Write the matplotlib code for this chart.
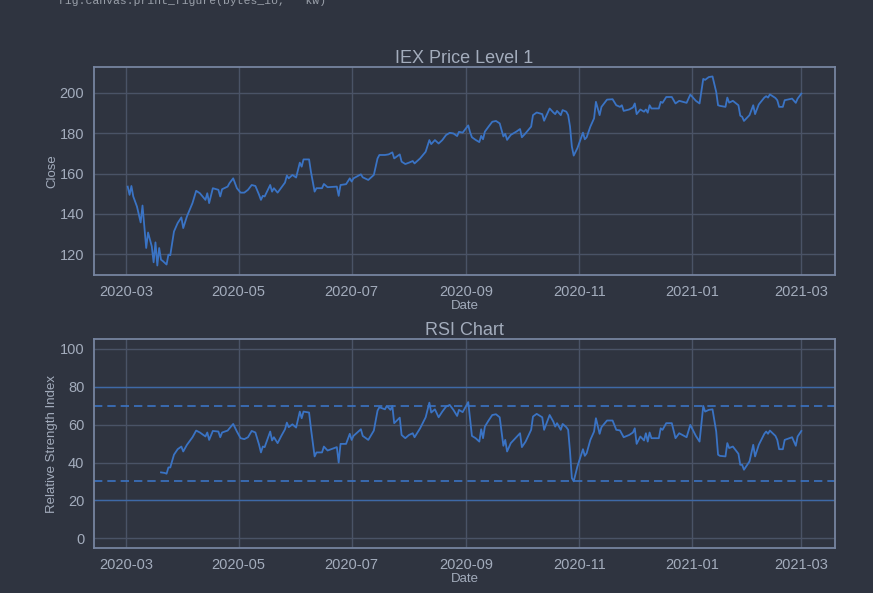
import matplotlib
matplotlib.use("Agg")
import matplotlib.pyplot as plt
import matplotlib.dates as mdates
import pandas as pd

# ---- data ----
start_date = "2020-03-01"
price_days = [1, 2, 3, 4, 6, 8, 9, 11, 12, 14, 15, 16, 17, 18, 19, 20, 22, 23, 24, 26, 28, 30, 31, 33,
              36, 38, 40, 43, 44, 45, 47, 50, 51, 52, 55, 56, 58, 60, 62, 64, 66, 68, 70, 72, 73, 74,
              75, 78, 79, 80, 82, 84, 86, 87, 88, 90, 92, 94, 95, 96, 99, 100, 102, 103, 106, 107,
              109, 114, 115, 116, 119, 121, 122, 123, 127, 128, 131, 134, 136, 137, 140, 142, 143,
              144, 145, 148, 149, 151, 153, 155, 156, 159, 162, 164, 165, 167, 169, 171, 173, 175,
              177, 179, 180, 182, 185, 186, 187, 189, 191, 192, 193, 194, 196, 198, 200, 202, 204,
              205, 206, 208, 211, 213, 214, 216, 219, 220, 222, 225, 226, 229, 231, 232, 233, 235,
              236, 238, 239, 240, 241, 242, 244, 247, 248, 249, 251, 253, 254, 256, 257, 260, 263,
              265, 267, 268, 269, 272, 274, 275, 276, 278, 280, 281, 282, 283, 284, 288, 289, 290,
              292, 295, 297, 299, 303, 305, 308, 310, 312, 313, 315, 317, 319, 320, 321, 324, 325,
              326, 328, 331, 332, 333, 334, 337, 339, 340, 342, 345, 346, 347, 348, 351, 352, 353,
              355, 356, 360, 362, 363, 365]
price_close = [153.5, 149.4, 153.8, 148.6, 143.6, 135.7, 144.1, 123.0, 130.7, 123.8, 115.9, 125.8,
               114.3, 123.0, 117.2, 116.5, 114.8, 119.7, 119.4, 131.2, 135.4, 138.2, 132.9, 138.7,
               145.3, 151.4, 150.2, 146.9, 150.2, 145.3, 152.7, 151.9, 148.6, 152.2, 153.5, 155.2,
               157.6, 152.7, 150.5, 150.5, 151.9, 154.3, 153.8, 149.4, 146.9, 148.9, 148.6, 154.3,
               151.0, 152.7, 150.5, 153.0, 155.5, 159.0, 157.6, 159.3, 158.0, 165.4, 163.4, 167.0,
               167.0, 160.9, 151.0, 152.7, 152.7, 154.8, 153.2, 153.5, 148.9, 154.3, 154.7, 157.6,
               156.0, 157.6, 159.6, 158.1, 156.8, 159.3, 167.5, 169.2, 169.2, 169.5, 170.0, 170.5,
               167.5, 169.5, 165.9, 164.7, 165.4, 166.2, 165.0, 167.5, 170.8, 176.6, 174.6, 176.6,
               174.9, 176.6, 179.1, 180.2, 179.9, 178.6, 180.7, 180.3, 183.9, 180.5, 178.0, 176.7,
               175.6, 178.7, 177.0, 180.8, 183.3, 185.7, 186.1, 184.9, 178.4, 179.7, 176.7, 179.2,
               180.8, 182.1, 178.0, 180.0, 183.3, 189.0, 190.3, 189.5, 186.2, 192.3, 190.3, 189.5,
               191.1, 189.0, 191.5, 190.7, 189.0, 183.3, 173.4, 168.9, 172.6, 180.3, 177.0, 178.0,
               183.3, 187.4, 195.6, 189.0, 193.1, 196.7, 196.9, 193.9, 193.1, 193.9, 191.1, 191.8,
               192.8, 194.8, 189.5, 191.8, 190.7, 191.8, 190.2, 193.9, 192.3, 192.3, 195.6, 195.1,
               198.0, 198.0, 194.8, 196.1, 195.1, 199.2, 196.1, 194.8, 207.0, 206.5, 207.9, 208.2,
               200.5, 193.9, 193.6, 193.1, 197.7, 195.2, 196.1, 193.9, 188.7, 188.2, 186.1, 189.0,
               193.9, 189.5, 194.3, 197.7, 198.4, 197.7, 199.3, 197.5, 196.4, 193.1, 193.1, 196.4,
               197.2, 195.1, 197.2, 199.7]

rsi_days = [19, 21, 22, 23, 24, 26, 28, 30, 31, 33, 36, 38, 40, 43, 44, 45, 47, 50, 51, 52, 55, 56,
            58, 60, 62, 64, 66, 68, 70, 72, 73, 74, 75, 78, 79, 80, 82, 84, 86, 87, 88, 90, 92, 94,
            95, 96, 99, 100, 102, 103, 106, 107, 109, 114, 115, 116, 119, 121, 122, 123, 127, 128,
            131, 134, 136, 137, 140, 141, 143, 144, 145, 148, 149, 151, 153, 155, 156, 159, 162,
            164, 165, 167, 169, 171, 173, 175, 177, 179, 180, 182, 185, 187, 189, 191, 192, 193,
            194, 196, 198, 200, 202, 204, 205, 206, 208, 211, 213, 214, 216, 219, 220, 222, 225,
            226, 229, 231, 232, 233, 235, 236, 238, 239, 240, 241, 242, 244, 247, 248, 249, 251,
            253, 254, 256, 257, 260, 263, 265, 267, 269, 272, 274, 275, 276, 278, 280, 281, 282,
            283, 284, 288, 289, 290, 292, 295, 297, 299, 303, 305, 308, 310, 312, 313, 315, 317,
            319, 320, 321, 324, 325, 326, 328, 331, 332, 333, 334, 337, 339, 340, 342, 345, 346,
            347, 348, 351, 352, 353, 355, 356, 360, 362, 363, 365]
rsi_values = [34.8, 34.5, 34.1, 37.4, 37.4, 44.1, 47.0, 48.4, 45.8, 49.3, 53.3, 56.8, 55.8, 53.7,
              55.8, 51.9, 56.6, 56.3, 53.3, 55.8, 56.8, 58.0, 60.3, 56.3, 52.8, 52.3, 53.3, 56.6,
              55.8, 49.3, 45.3, 48.4, 48.1, 56.3, 51.6, 53.3, 50.2, 54.0, 57.5, 61.0, 58.6, 60.1,
              58.4, 66.8, 63.3, 66.8, 66.3, 58.0, 43.2, 45.3, 45.3, 48.4, 46.3, 48.1, 40.0, 49.8,
              49.8, 55.1, 51.9, 54.0, 57.5, 54.0, 51.9, 56.8, 67.3, 69.1, 68.0, 69.8, 67.7, 69.8,
              60.7, 63.6, 54.5, 52.8, 54.5, 55.4, 53.3, 58.0, 63.8, 71.5, 66.3, 68.0, 63.8, 66.8,
              69.4, 70.3, 67.7, 64.5, 67.7, 66.5, 71.8, 54.0, 52.8, 51.0, 57.5, 52.8, 58.9, 62.1,
              65.0, 65.4, 63.8, 48.8, 51.9, 45.8, 50.2, 53.3, 55.4, 48.1, 51.0, 57.2, 64.2, 65.6,
              63.8, 57.2, 65.0, 61.5, 58.9, 60.7, 57.2, 60.3, 58.6, 57.2, 45.8, 31.8, 30.1, 37.9,
              47.0, 43.5, 44.9, 51.9, 56.3, 63.3, 55.1, 58.6, 62.1, 62.1, 57.2, 56.9, 53.3, 54.5,
              55.8, 58.0, 49.8, 53.7, 51.6, 55.4, 51.0, 55.8, 52.8, 52.8, 58.0, 57.2, 60.7, 60.7,
              52.8, 55.4, 53.3, 59.8, 54.0, 51.0, 69.8, 66.8, 67.7, 68.0, 56.3, 44.1, 43.5, 43.2,
              50.2, 47.6, 48.4, 44.6, 38.8, 38.8, 36.2, 40.6, 49.3, 43.2, 49.3, 55.1, 56.3, 55.1,
              56.8, 54.0, 51.9, 47.0, 47.0, 51.9, 53.3, 48.8, 53.7, 56.6]

rsi_overbought = 70
rsi_oversold = 30
rsi_upper_band = 80
rsi_lower_band = 20

price_dates = pd.Timestamp(start_date) + pd.to_timedelta(price_days, unit="D")
rsi_dates = pd.Timestamp(start_date) + pd.to_timedelta(rsi_days, unit="D")

# ---- style ----
BG = "#2f3440"
GRID = "#4a5366"
SPINE = "#7684a0"
TEXT = "#a3acbc"
LINE = "#3a73c4"

plt.rcParams["font.family"] = ["Liberation Sans", "DejaVu Sans"]

fig = plt.figure(figsize=(8.73, 5.93), dpi=100, facecolor=BG)
ax1 = fig.add_axes([0.1077, 0.5363, 0.8488, 0.3507])
ax2 = fig.add_axes([0.1077, 0.0759, 0.8488, 0.3524])

fig.text(0.066, 1 - 4.5 / 593, "fig.canvas.print_figure(bytes_io, **kw)",
         family=["Liberation Mono", "DejaVu Sans Mono"], fontsize=8.2, color="#9aa0aa",
         va="baseline", ha="left")

ax1.plot(price_dates, price_close, color=LINE, lw=1.3, zorder=3)
ax2.plot(rsi_dates, rsi_values, color=LINE, lw=1.3, zorder=3)
ax2.axhline(rsi_overbought, color=LINE, lw=1.2, ls=(0, (5, 3)), zorder=2)
ax2.axhline(rsi_oversold, color=LINE, lw=1.2, ls=(0, (5, 3)), zorder=2)
ax2.axhline(rsi_upper_band, color=LINE, lw=1.0, alpha=0.7, zorder=2)
ax2.axhline(rsi_lower_band, color=LINE, lw=1.0, alpha=0.7, zorder=2)

ax2.set_xlim(ax1.get_xlim())
ax2.set_ylim(-5, 105)
ax2.set_yticks([0, 20, 40, 60, 80, 100])

for ax in (ax1, ax2):
    ax.set_facecolor(BG)
    ax.grid(True, color=GRID, lw=1.0, zorder=0)
    ax.set_axisbelow(True)
    for s in ax.spines.values():
        s.set_color(SPINE)
        s.set_linewidth(1.3)
    ax.tick_params(length=0, colors=TEXT, labelsize=10.5, pad=7)
    ax.xaxis.set_major_locator(mdates.MonthLocator(bymonth=[1, 3, 5, 7, 9, 11]))
    ax.xaxis.set_major_formatter(mdates.DateFormatter("%Y-%m"))
    ax.set_xlabel("Date", color=TEXT, fontsize=9.5, labelpad=1)

ax1.set_ylabel("Close", color=TEXT, fontsize=9.5, labelpad=1)
ax2.set_ylabel("Relative Strength Index", color=TEXT, fontsize=9.5, labelpad=1)
ax1.set_title("IEX Price Level 1", color=TEXT, fontsize=13, pad=3)
ax2.set_title("RSI Chart", color=TEXT, fontsize=13, pad=3)

fig.savefig("out.png", dpi=100, facecolor=BG)
